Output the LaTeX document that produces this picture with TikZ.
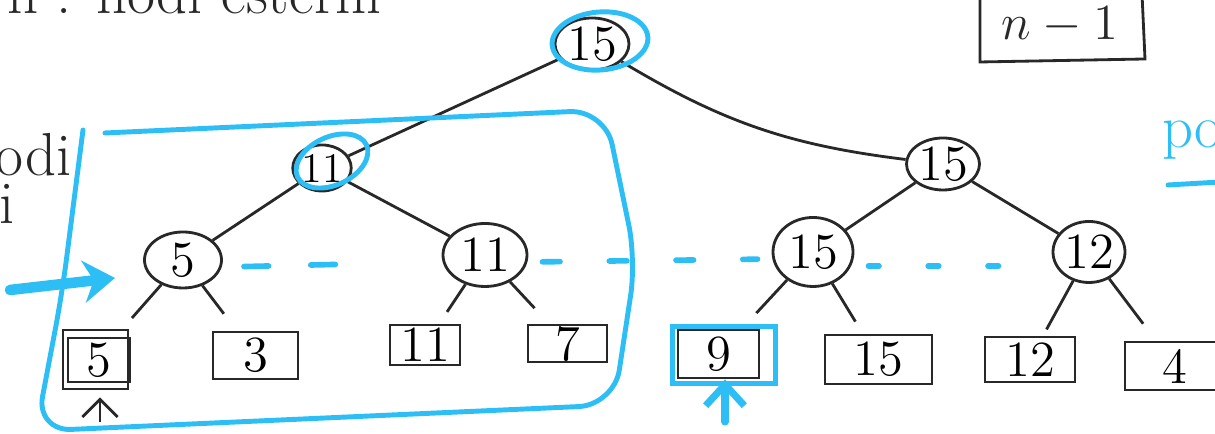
\documentclass[tikz,border=0pt]{standalone}
\usepackage{tikz}
\usetikzlibrary{arrows.meta, shapes.geometric}
\definecolor{pen}{RGB}{45,190,245}
\definecolor{ink}{RGB}{40,40,40}

\begin{document}
\begin{tikzpicture}[
  inode/.style={draw=ink, thick, ellipse, inner sep=0pt, font=\Large},
  leaf/.style={draw=ink, thick, rectangle, inner sep=0pt, font=\Large},
  edge/.style={ink, thick},
  hilite/.style={pen, line width=1.4pt, line cap=round},
  levelline/.style={pen, line width=1.6pt, line cap=round, dash pattern=on 7pt off 12pt}]
  \clip (0,0) rectangle (12.15,4.34);
  % notes cut by the page edge
  \node[anchor=base west, font=\LARGE, ink] (topnote) at (-0.05,4.20) {n : nodi esterni};
  \node[anchor=base east, font=\LARGE, ink, inner sep=0pt] (leftnote) at (0.72,2.58) {nodi};
  \node[anchor=base east, font=\LARGE, ink, inner sep=0pt] (leftnote2) at (0.15,2.10) {interni};
  \node[anchor=base west, font=\LARGE, pen] (rightnote) at (11.50,2.86) {po};
  \draw[hilite] (11.68,2.49) -- (12.20,2.52);
  % box with n-1, open at the top
  \draw[edge] (9.80,4.40) -- (9.80,3.72) -- (11.45,3.75) -- (11.42,4.40);
  \node[font=\Large, ink] (count) at (10.60,4.09) {$n-1$};

  % internal nodes
  \node[inode, minimum width=0.74cm, minimum height=0.52cm] (root) at (5.92,3.90) {15};
  \node[inode, minimum width=0.56cm, minimum height=0.46cm, font=\large] (n11) at (3.22,2.66) {11};
  \node[inode, minimum width=0.73cm, minimum height=0.52cm] (r15) at (9.43,2.70) {15};
  \node[inode, minimum width=0.77cm, minimum height=0.56cm] (a5) at (1.83,1.74) {5};
  \node[inode, minimum width=0.84cm, minimum height=0.63cm] (a11) at (4.85,1.79) {11};
  \node[inode, minimum width=0.80cm, minimum height=0.69cm] (a15) at (8.13,1.82) {15};
  \node[inode, minimum width=0.72cm, minimum height=0.61cm] (a12) at (10.89,1.82) {12};

  % leaves
  \node[leaf, minimum width=0.65cm, minimum height=0.59cm] (l5box) at (0.955,0.745) {};
  \node[leaf, minimum width=0.62cm, minimum height=0.44cm] (l5) at (0.99,0.74) {5};
  \node[leaf, minimum width=0.85cm, minimum height=0.47cm] (l3) at (2.555,0.785) {3};
  \node[leaf, minimum width=0.70cm, minimum height=0.40cm] (l11) at (4.25,0.89) {11};
  \node[leaf, minimum width=0.79cm, minimum height=0.37cm] (l7) at (5.675,0.905) {7};
  \node[leaf, minimum width=0.81cm, minimum height=0.48cm] (l9) at (7.185,0.80) {9};
  \node[leaf, minimum width=1.07cm, minimum height=0.49cm] (l15) at (8.785,0.745) {15};
  \node[leaf, minimum width=0.90cm, minimum height=0.45cm] (l12) at (10.30,0.745) {12};
  \node[leaf, minimum width=1.00cm, minimum height=0.48cm] (l4) at (11.75,0.68) {4};

  % tree edges
  \draw[edge] (root) -- (n11);
  \draw[edge] (root) to[bend right=12] (r15);
  \draw[edge] (n11) -- (a5);
  \draw[edge] (n11) -- (a11);
  \draw[edge] (r15) -- (a15);
  \draw[edge] (r15) -- (a12);
  \draw[edge, shorten >=4pt] (a5) -- (l5box);
  \draw[edge, shorten >=6pt] (a5) -- (l3);
  \draw[edge, shorten >=4pt] (a11) -- (l11);
  \draw[edge, shorten >=6pt] (a11) -- (l7);
  \draw[edge, shorten >=6pt] (a15) -- (l9);
  \draw[edge, shorten >=4pt] (a15) -- (l15);
  \draw[edge, shorten >=2pt] (a12) -- (l12);
  \draw[edge, shorten >=6pt] (a12) -- (l4);

  % pointer under the first leaf
  \coordinate (p5) at (1.00,0.12);
  \draw[edge, -{Straight Barb[length=5pt, width=10pt]}, shorten >=2pt] (p5) -- (p5 |- l5box.south);

  % blue marks
  \draw[hilite, rotate around={5:(6.00,3.93)}] (6.00,3.93) ellipse (0.48 and 0.29);
  \draw[hilite, rotate around={25:(3.32,2.73)}] (3.32,2.73) ellipse (0.38 and 0.24);
  \draw[hilite] ([shift={(-0.04,-0.04)}]l9.south west) rectangle ([shift={(0.15,0.02)}]l9.north east);
  \coordinate (p9) at (7.25,0.12);
  \draw[hilite, line width=2pt, -{Straight Barb[length=6pt, width=11pt]}] (p9) -- (p9 |- l9.south);
  \draw[hilite, rounded corners=10pt]
    (0.83,3.04) -- (0.62,1.40) -- (0.36,0.03) -- (6.14,0.29)
    -- (6.36,1.74) -- (6.05,3.24) -- (1.05,3.01);
  \coordinate (inL) at (0.10,1.44);
  \coordinate (inR) at (1.15,1.56);
  \draw[hilite, line width=3pt, -{Stealth[length=9pt, width=12pt]}] (inL) -- (inR);

  % same level, dashed
  \draw[levelline, shorten <=6pt, shorten >=30pt] ([yshift=-2pt]a5.east) -- ([yshift=-2pt]a11.west);
  \draw[levelline, dash pattern=on 5pt off 14pt, shorten <=4pt, shorten >=4pt] ([yshift=-2pt]a11.east) -- ([yshift=-2pt]a15.west);
  \draw[levelline, dash pattern=on 3pt off 14pt, shorten <=4pt, shorten >=4pt] ([yshift=-4pt]a15.east) -- ([yshift=-4pt]a12.west);
\end{tikzpicture}
\end{document}
